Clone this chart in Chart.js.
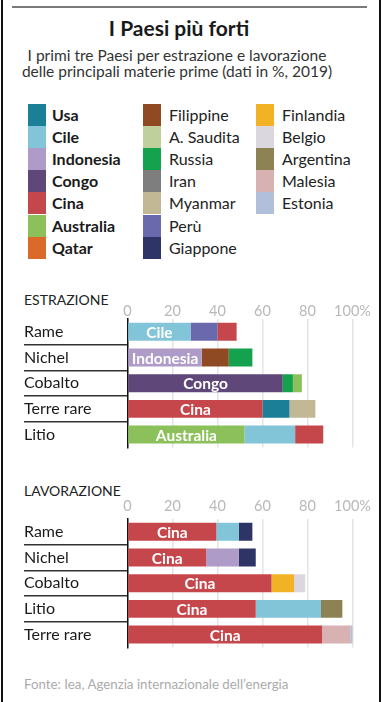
<!DOCTYPE html>
<html lang="it">
<head>
<meta charset="utf-8">
<title>I Paesi più forti</title>
<script src="https://cdn.jsdelivr.net/npm/chart.js@4.4.1/dist/chart.umd.min.js"></script>
<style>
  html, body { margin: 0; padding: 0; background: #fff; }
  body { width: 384px; height: 702px; position: relative; overflow: hidden; font-family: Lato, "Open Sans", sans-serif; color: #222; }
  .frame-l { position: absolute; left: 1px; top: 0; width: 1.5px; height: 702px; background: #111; }
  .frame-r { position: absolute; left: 379px; top: 0; width: 1.5px; height: 702px; background: #111; }
  .topline { position: absolute; left: 12px; top: 6px; width: 355px; height: 2px; background: #7a7a7a; }
  h1 { position: absolute; left: 0; width: 358px; top: 15px; margin: 0; text-align: center; font-size: 21px; font-weight: 700; color: #1a1a1a; }
  .sub { position: absolute; left: 0; width: 354px; top: 47px; margin: 0; text-align: center; font-size: 15.5px; line-height: 16px; color: #333; }
  .legend { position: absolute; top: 104px; left: 0; }
  .lg { position: absolute; height: 22px; line-height: 22px; font-size: 16px; white-space: nowrap; }
  .lg i { position: absolute; left: 0; top: 0; width: 18px; height: 22px; }
  .lg span { position: absolute; top: 0; }
  .lg.b span { font-weight: 700; color: #1a1a1a; }
  .head { position: absolute; left: 24px; font-size: 14px; color: #222; }
  canvas { position: absolute; left: 0; }
  .foot { position: absolute; left: 24px; top: 676px; font-size: 13.3px; color: #ababab; }
</style>
</head>
<body>
<div class="frame-l"></div>
<div class="frame-r"></div>
<div class="topline"></div>
<h1>I Paesi più forti</h1>
<p class="sub">I primi tre Paesi per estrazione e lavorazione<br>delle principali materie prime (dati in %, 2019)</p>
<div class="legend" id="legend"></div>

<div class="head" style="top:291px">ESTRAZIONE</div>
<canvas id="estrChart" width="384" height="160" style="top:300px"></canvas>

<div class="head" style="top:482px">LAVORAZIONE</div>
<canvas id="lavChart" width="384" height="160" style="top:500px"></canvas>

<div class="foot">Fonte: Iea, Agenzia internazionale dell’energia</div>

<script>
// legend columns (bold ones are the first country of a bar)
const legendCol1 = ['Usa', 'Cile', 'Indonesia', 'Congo', 'Cina', 'Australia', 'Qatar'];
const legendCol2 = ['Filippine', 'A. Saudita', 'Russia', 'Iran', 'Myanmar', 'Perù', 'Giappone'];
const legendCol3 = ['Finlandia', 'Belgio', 'Argentina', 'Malesia', 'Estonia'];

// estrazione
const estrCategories = ['Rame', 'Nichel', 'Cobalto', 'Terre rare', 'Litio'];
const estrCountries1 = ['Cile', 'Indonesia', 'Congo', 'Cina', 'Australia'];
const estrValues1 = [28, 33, 69, 60, 52];
const estrCountries2 = ['Perù', 'Filippine', 'Russia', 'Usa', 'Cile'];
const estrValues2 = [12, 12, 4.5, 12, 22.5];
const estrCountries3 = ['Cina', 'Russia', 'Australia', 'Myanmar', 'Cina'];
const estrValues3 = [8.5, 10.5, 4, 11.5, 12.5];

// lavorazione
const lavCategories = ['Rame', 'Nichel', 'Cobalto', 'Litio', 'Terre rare'];
const lavCountries1 = ['Cina', 'Cina', 'Cina', 'Cina', 'Cina'];
const lavValues1 = [39.5, 35, 64, 57, 86.5];
const lavCountries2 = ['Cile', 'Indonesia', 'Finlandia', 'Cile', 'Malesia'];
const lavValues2 = [10, 14.5, 10, 29, 12.5];
const lavCountries3 = ['Giappone', 'Giappone', 'Belgio', 'Argentina', 'Estonia'];
const lavValues3 = [6, 7.5, 5, 9.5, 1.2];

const xTicks = [0, 20, 40, 60, 80, 100];

const countryColors = {
    'Usa': '#1b7f98', 'Cile': '#82c4d8', 'Indonesia': '#ae9bc8', 'Congo': '#5f4879',
    'Cina': '#c6474b', 'Australia': '#8cc05a', 'Qatar': '#db6a2a',
    'Filippine': '#8f4923', 'A. Saudita': '#c0d09c', 'Russia': '#15a24f', 'Iran': '#7e7e7e',
    'Myanmar': '#c2b896', 'Perù': '#6a69ae', 'Giappone': '#2e3466',
    'Finlandia': '#f1b325', 'Belgio': '#dad8de', 'Argentina': '#8c8253',
    'Malesia': '#d8b1b2', 'Estonia': '#b2bfdb'
};

// legend
const legendEl = document.getElementById('legend');
[[legendCol1, 28, 24, true], [legendCol2, 143, 26, false], [legendCol3, 256, 26, false]].forEach(function (col) {
    col[0].forEach(function (name, i) {
        const row = document.createElement('div');
        row.className = 'lg' + (col[3] ? ' b' : '');
        row.style.left = col[1] + 'px';
        row.style.top = (i * 22.1) + 'px';
        row.innerHTML = '<i style="background:' + countryColors[name] + '"></i><span style="left:' + col[2] + 'px">' + name + '</span>';
        legendEl.appendChild(row);
    });
});

Chart.defaults.font.family = 'Lato, "Open Sans", sans-serif';

// writes the first country's name inside the first segment
const firstLabelPlugin = {
    id: 'firstLabel',
    afterDatasetsDraw(chart, args, opts) {
        const ctx = chart.ctx;
        const meta = chart.getDatasetMeta(0);
        ctx.save();
        ctx.fillStyle = '#fff';
        ctx.font = 'bold 15.5px Lato, "Open Sans", sans-serif';
        ctx.textAlign = 'center';
        ctx.textBaseline = 'middle';
        meta.data.forEach(function (bar, i) {
            ctx.fillText(opts.names[i], (bar.base + bar.x) / 2, bar.y + 1);
        });
        ctx.restore();
    }
};

function makeChart(id, categories, names, values, tickPad, areaPadBottom) {
    const datasets = values.map(function (vals, k) {
        return {
            data: vals,
            backgroundColor: names[k].map(function (n) { return countryColors[n]; }),
            borderWidth: 0,
            barPercentage: 0.7,
            categoryPercentage: 1
        };
    });
    return new Chart(document.getElementById(id), {
        type: 'bar',
        data: { labels: categories, datasets: datasets },
        plugins: [firstLabelPlugin],
        options: {
            indexAxis: 'y',
            responsive: false,
            animation: false,
            devicePixelRatio: 1,
            layout: { padding: { left: 24, right: 31.5, top: 0, bottom: areaPadBottom } },
            plugins: {
                legend: { display: false },
                tooltip: { enabled: false },
                firstLabel: { names: names[0] }
            },
            scales: {
                x: {
                    position: 'top',
                    stacked: true,
                    min: 0,
                    max: 100,
                    afterBuildTicks: function (scale) {
                        scale.ticks = xTicks.map(function (v) { return { value: v }; });
                    },
                    afterFit: function (scale) { scale.height = 19; },
                    ticks: {
                        padding: tickPad,
                        color: '#b8b8b8',
                        font: { size: 14.5, lineHeight: 1 },
                        callback: function (v) { return v === 100 ? '100%' : v; }
                    },
                    grid: { color: '#e4e4e4', lineWidth: 1.5, drawTicks: false },
                    border: { display: false }
                },
                y: {
                    stacked: true,
                    afterFit: function (scale) { scale.width = 103.5; },
                    ticks: {
                        crossAlign: 'far',
                        color: '#1a1a1a',
                        font: { size: 16 }
                    },
                    grid: {
                        offset: true,
                        drawOnChartArea: false,
                        drawTicks: true,
                        tickLength: 103.5,
                        lineWidth: 1.6,
                        color: function (c) { return c.index > 0 ? '#333' : 'rgba(0,0,0,0)'; }
                    },
                    border: { display: true, color: '#111', width: 1.5 }
                }
            }
        }
    });
}

makeChart('estrChart', estrCategories,
    [estrCountries1, estrCountries2, estrCountries3],
    [estrValues1, estrValues2, estrValues3], 0, 5);
makeChart('lavChart', lavCategories,
    [lavCountries1, lavCountries2, lavCountries3],
    [lavValues1, lavValues2, lavValues3], 5, 4);
</script>
</body>
</html>
